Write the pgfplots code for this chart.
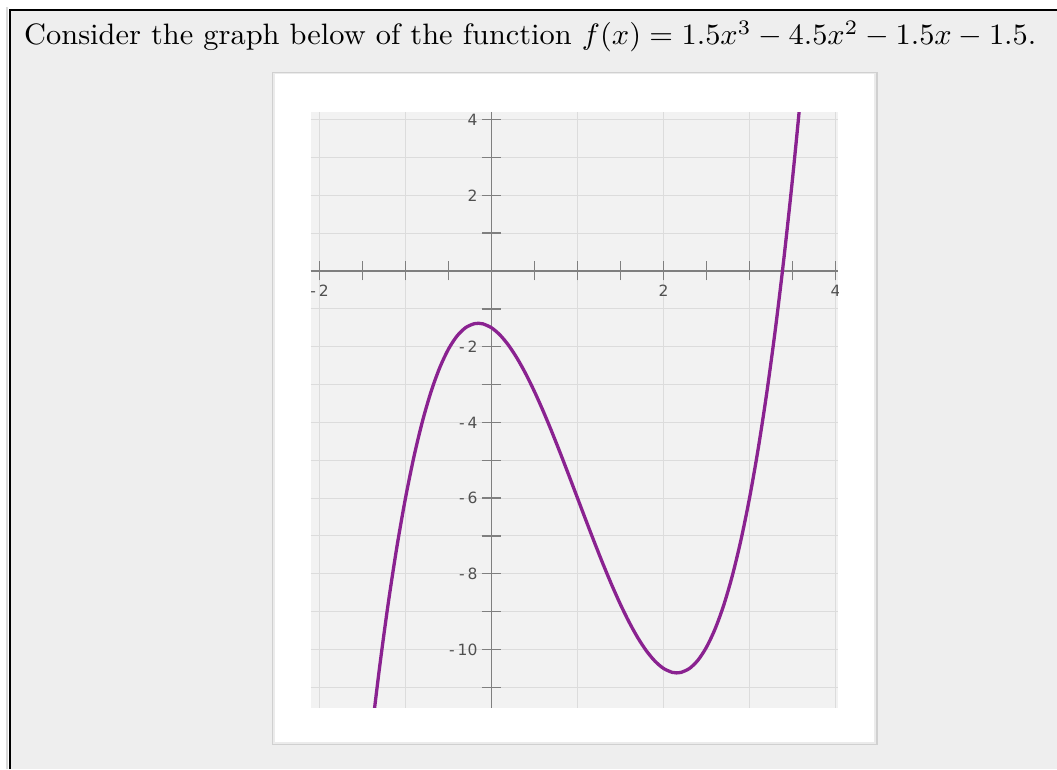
\documentclass[border=0pt]{standalone}
\usepackage{graphicx}
\usepackage{pgfplots}
\pgfplotsset{compat=1.18}
\usepackage{fontspec}
\newfontfamily\labfont{DejaVu Sans}

\definecolor{pagebg}{HTML}{EEEEEE}
\definecolor{plotbg}{HTML}{F2F2F2}
\definecolor{gridgray}{HTML}{DCDCDC}
\definecolor{axisgray}{HTML}{7F7F7F}
\definecolor{labgray}{HTML}{505050}
\definecolor{curve}{HTML}{8A2290}
\definecolor{cardedge}{HTML}{D0D0D0}

% f(x) = 1.5x^3 - 4.5x^2 - 1.5x - 1.5, tabulated
\pgfplotstableread{
x      y
-1.5   -14.4375
-1.4   -12.336
-1.3   -10.4505
-1.2   -8.772
-1.1   -7.2915
-1.0   -6.0
-0.9   -4.8885
-0.8   -3.948
-0.7   -3.1695
-0.6   -2.544
-0.5   -2.0625
-0.4   -1.716
-0.3   -1.4955
-0.2   -1.392
-0.15  -1.3813
-0.1   -1.3965
0.0    -1.5
0.1    -1.6935
0.2    -1.968
0.3    -2.3145
0.4    -2.724
0.5    -3.1875
0.6    -3.696
0.7    -4.2405
0.8    -4.812
0.9    -5.4015
1.0    -6.0
1.1    -6.5985
1.2    -7.188
1.3    -7.7595
1.4    -8.304
1.5    -8.8125
1.6    -9.276
1.7    -9.6855
1.8    -10.032
1.9    -10.3065
2.0    -10.5
2.1    -10.6035
2.15   -10.6187
2.2    -10.608
2.3    -10.5045
2.4    -10.284
2.5    -9.9375
2.6    -9.456
2.7    -8.8305
2.8    -8.052
2.9    -7.1115
3.0    -6.0
3.1    -4.7085
3.2    -3.228
3.3    -1.5495
3.4    0.336
3.5    2.4375
3.6    4.764
3.7    7.3245
}\fdata

\begin{document}
\begin{tikzpicture}[x=1pt,y=1pt]
\useasboundingbox (0,0) rectangle (1057,769);
% page and framed box
\fill[white] (0,0) rectangle (1057,769);
\fill[pagebg] (10,0) rectangle (1057,759);
\draw[black!15, line width=2pt] (7,0) -- (7,762);
\draw[black, line width=2.2pt] (10,0) -- (10,759) -- (1057,759);

% question text
\node[anchor=base west, inner sep=0pt] at (24,724)
  {\scalebox{3.04}[2.95]{\fontsize{10}{12}\selectfont Consider the graph below of the function $f(x) = 1.5x^3 - 4.5x^2 - 1.5x - 1.5$.}};

% card holding the graph
\fill[cardedge] (272,24) rectangle (877.5,697);
\fill[black!8] (273,25.5) rectangle (876,696);
\fill[white] (274.5,27) rectangle (874,694.5);

\begin{scope}
\clip (310.7,61.3) rectangle (838,656.7);
\begin{axis}[
  at={(310.7pt,61.3pt)}, anchor=south west,
  scale only axis, width=527.3pt, height=595.4pt,
  xmin=-2.102, xmax=4.029, ymin=-11.538, ymax=4.193,
  axis lines=middle,
  axis line style={-, draw=axisgray, line width=1.4pt},
  axis background/.style={fill=plotbg},
  xtick={-2,-1,...,4},
  minor xtick={-1.5,-0.5,0.5,1.5,2.5,3.5},
  ytick={-11,-10,...,4},
  xticklabels={{-\kern3pt2},,,,2,,4},
  yticklabels={,{-\kern3pt10},,{-\kern3pt8},,{-\kern3pt6},,{-\kern3pt4},,{-\kern3pt2},,,,2,,4},
  hide obscured x ticks=false, hide obscured y ticks=false,
  tick align=center,
  major tick length=19pt, minor tick length=19pt,
  tick style={draw=axisgray, line width=1.4pt},
  grid=major,
  major grid style={draw=gridgray, line width=1.1pt},
  ticklabel style={font=\labfont\fontsize{15.5}{18}\selectfont, text=labgray},
  xticklabel style={yshift=-1pt},
  yticklabel style={xshift=-1pt},
  clip=true,
]
\addplot[curve, line width=3.3pt, smooth] table {\fdata};
\end{axis}
\end{scope}
\end{tikzpicture}
\end{document}
